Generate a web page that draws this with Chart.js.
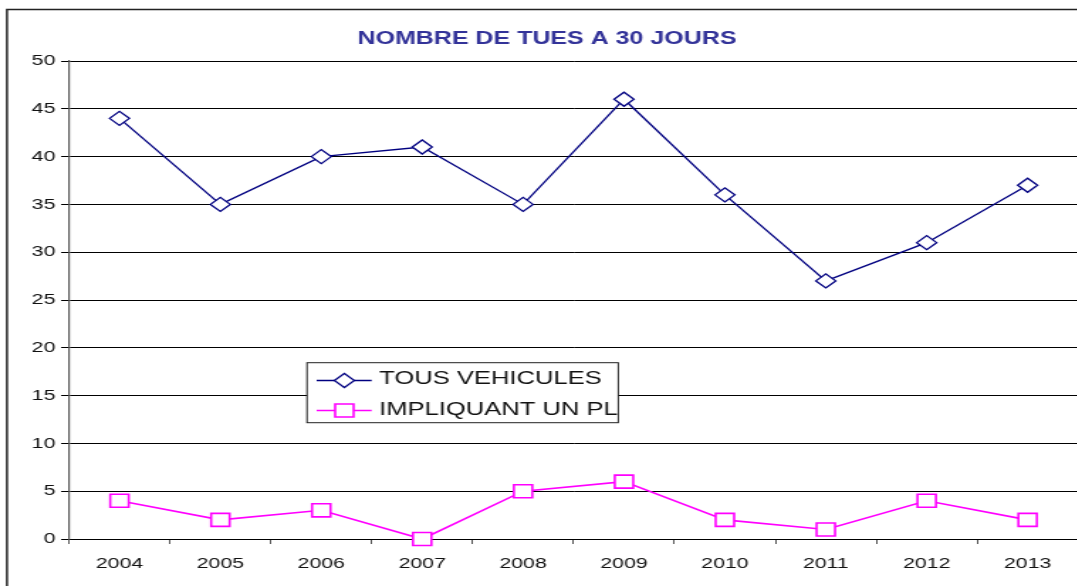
<!DOCTYPE html>
<html>
<head>
<meta charset="utf-8">
<script src="https://cdn.jsdelivr.net/npm/chart.js@4.4.1/dist/chart.umd.min.js"></script>
<style>
    html, body { margin: 0; padding: 0; background: #fff; overflow: hidden; }
    /* le graphique d'origine est étiré en largeur : on fait pareil */
    #cadre { position: absolute; left: 0; top: 0; width: 770px; height: 586px;
             transform: scaleX(1.42); transform-origin: 0 0; }
</style>
</head>
<body>
<div id="cadre"><canvas id="chart-tues" width="770" height="586"></canvas></div>
<script>
// Données
const annees        = ['2004', '2005', '2006', '2007', '2008', '2009', '2010', '2011', '2012', '2013'];
const tousVehicules = [44, 35, 40, 41, 35, 46, 36, 27, 31, 37];
const impliquantPL  = [4, 2, 3, 0, 5, 6, 2, 1, 4, 2];
const graduationsY  = [0, 5, 10, 15, 20, 25, 30, 35, 40, 45, 50];

const titre  = 'NOMBRE DE TUES A 30 JOURS';
const police = '"Liberation Sans", Arial, sans-serif';

// Cadre + titre
const cadrePlugin = {
    id: 'cadre',
    beforeDraw(chart) {
        const c = chart.ctx;
        c.save();
        c.fillStyle = '#fff';
        c.fillRect(0, 0, chart.width, chart.height);
        c.strokeStyle = '#222';
        c.lineWidth = 1.5;
        c.strokeRect(4.9, 9.5, chart.width + 20, chart.height + 20);
        c.fillStyle = '#333399';
        c.font = 'bold 17.6px ' + police;
        c.textAlign = 'center';
        c.textBaseline = 'alphabetic';
        c.fillText(titre, 385.2, 44);
        c.restore();
    }
};

// Légende dans le graphique, comme dans Excel
function marqueur(c, style, x, y, couleur) {
    c.save();
    c.fillStyle = '#fff';
    c.strokeStyle = couleur;
    c.lineWidth = style === 'rect' ? 1.6 : 1.3;
    c.beginPath();
    if (style === 'rect') {
        c.rect(x - 6.5, y - 6.5, 13, 13);
    } else {
        c.moveTo(x - 7, y); c.lineTo(x, y - 7); c.lineTo(x + 7, y); c.lineTo(x, y + 7); c.closePath();
    }
    c.fill();
    c.stroke();
    c.restore();
}

const legendePlugin = {
    id: 'legendeInterne',
    afterDraw(chart) {
        const c = chart.ctx;
        c.save();
        c.fillStyle = '#fff';
        c.fillRect(216.2, 362.7, 219.2, 60);
        c.strokeStyle = '#222';
        c.lineWidth = 1;
        c.strokeRect(216.2, 362.7, 219.2, 60);
        const lignes = [380.5, 410.5];
        const bases  = [384, 415];
        chart.data.datasets.forEach((ds, i) => {
            c.strokeStyle = ds.borderColor;
            c.lineWidth = ds.borderWidth;
            c.beginPath();
            c.moveTo(223, lignes[i]);
            c.lineTo(261.7, lignes[i]);
            c.stroke();
            marqueur(c, ds.pointStyle, 242.5, lignes[i], ds.borderColor);
            c.fillStyle = '#111';
            c.font = '18px ' + police;
            c.textBaseline = 'alphabetic';
            c.fillText(ds.label, 267.1, bases[i]);
        });
        c.restore();
    }
};

const ctx = document.getElementById('chart-tues').getContext('2d');
new Chart(ctx, {
    type: 'line',
    data: {
        labels: annees,
        datasets: [
            {
                label: 'TOUS VEHICULES',
                data: tousVehicules,
                borderColor: '#000080',
                borderWidth: 1.3,
                pointStyle: 'rectRot',
                pointRadius: 7,
                pointBorderWidth: 1.3,
                pointBackgroundColor: '#fff',
                tension: 0,
                clip: false
            },
            {
                label: 'IMPLIQUANT UN PL',
                data: impliquantPL,
                borderColor: '#ff00ff',
                borderWidth: 1.6,
                pointStyle: 'rect',
                pointRadius: 9.2,
                pointBorderWidth: 1.6,
                pointBackgroundColor: '#fff',
                tension: 0,
                clip: false
            }
        ]
    },
    options: {
        responsive: false,
        devicePixelRatio: 1,
        animation: false,
        layout: { padding: { left: 0, right: 1.6, top: 61, bottom: 0 } },
        plugins: {
            legend: { display: false },
            title: { display: false },
            tooltip: { enabled: false }
        },
        scales: {
            x: {
                offset: true,
                afterFit: s => { s.height = 47; s.paddingLeft = 0; s.paddingRight = 0; },
                grid: { drawOnChartArea: false, color: '#555', tickLength: 5, offset: true },
                border: { color: '#000', width: 1 },
                ticks: { color: '#111', font: { family: police, size: 15 }, padding: 11, maxRotation: 0 }
            },
            y: {
                min: 0,
                max: 50,
                afterFit: s => { s.width = 48.6; },
                afterBuildTicks: s => { s.ticks = graduationsY.map(v => ({ value: v })); },
                grid: { color: '#000', lineWidth: 1, tickLength: 5.6 },
                border: { color: '#555', width: 1.2 },
                ticks: { color: '#111', font: { family: police, size: 15 }, padding: 4 }
            }
        }
    },
    plugins: [cadrePlugin, legendePlugin]
});
</script>
</body>
</html>
